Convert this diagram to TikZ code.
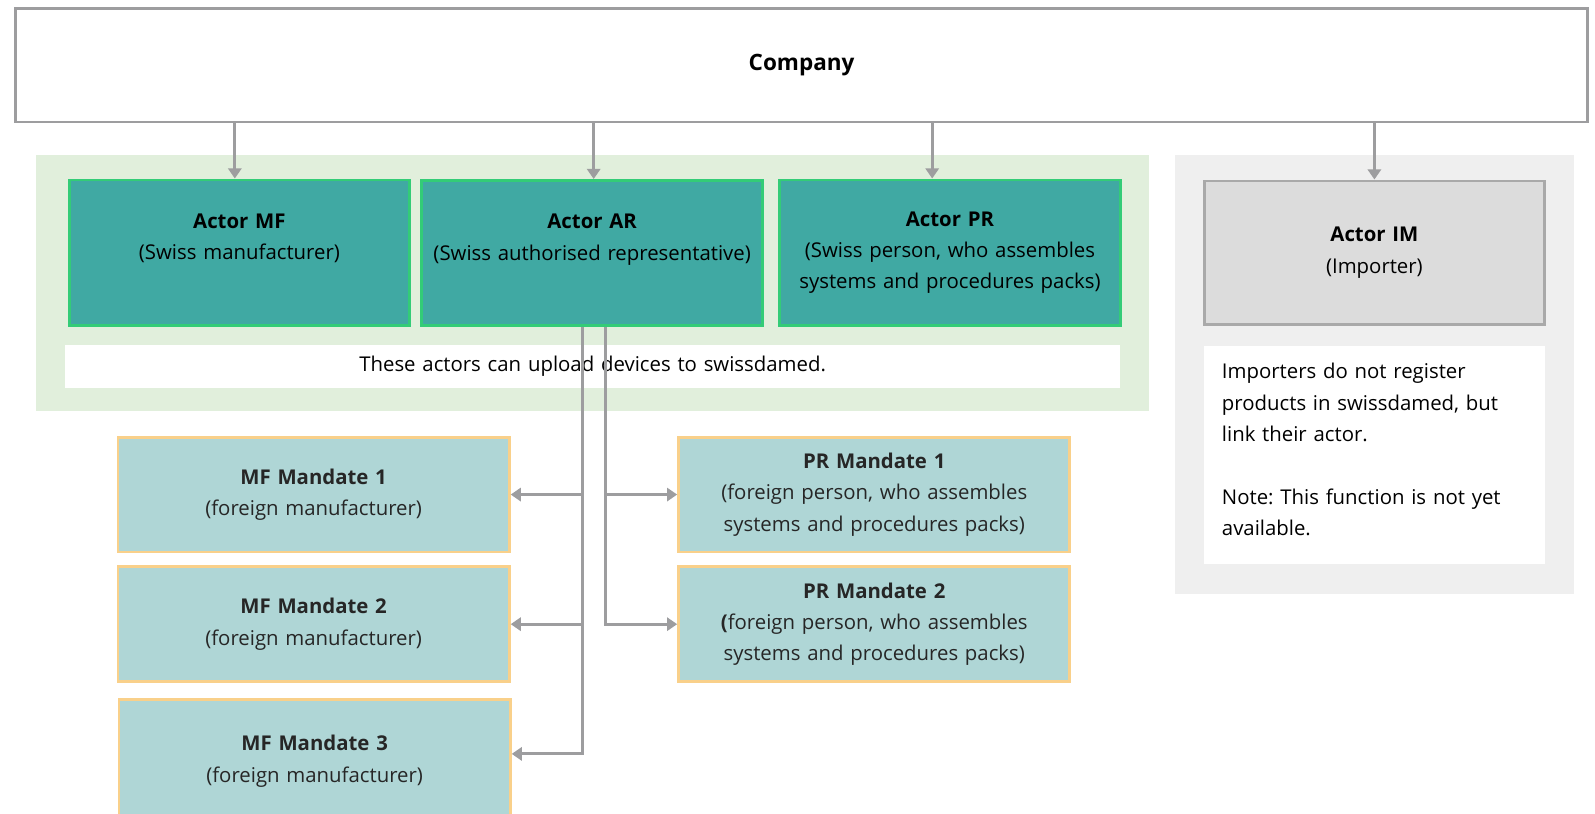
\documentclass[tikz,border=0pt]{standalone}
\usepackage{fontspec}
\setmainfont{Open Sans}
\frenchspacing
\usetikzlibrary{arrows.meta,calc}
\definecolor{actorfill}{HTML}{40A9A3}
\definecolor{actorline}{HTML}{33CC77}
\definecolor{mandfill}{HTML}{AFD6D6}
\definecolor{mandline}{HTML}{F9D08A}
\definecolor{greenbg}{HTML}{E1EFDC}
\definecolor{graybg}{HTML}{EFEFEF}
\definecolor{imfill}{HTML}{DCDCDC}
\definecolor{imline}{HTML}{A9A9A9}
\definecolor{linkgray}{HTML}{9D9D9F}
\tikzset{
  base/.style={rectangle,inner sep=0pt,align=center,line width=1.6pt,
    font=\fontsize{11.4}{17.6}\selectfont},
  actorbox/.style={base,draw=actorline,fill=actorfill,text width=6.7cm,minimum height=2.86cm},
  imbox/.style={base,draw=imline,fill=imfill,text width=6.68cm,minimum height=2.82cm},
  mandate/.style={base,draw=mandline,fill=mandfill,text=black!85,text width=7.7cm,minimum height=2.26cm},
  link/.style={draw=linkgray,line width=1.6pt},
  linkarrow/.style={link,-{Triangle[width=0.26cm,length=0.2cm]}}
}
\begin{document}
\begin{tikzpicture}[x=0.02cm,y=-0.02cm]
\useasboundingbox (0,0) rectangle (1569,800.7);
\clip (0,0) rectangle (1569,800.7);

\fill[greenbg] (35,152) rectangle (1130,404); %uploading actors
\fill[graybg] (1156,152) rectangle (1548,584); %importer

\node[base,draw=linkgray,fill=white,text width=30.94cm,minimum height=2.24cm,
  font=\fontsize{12.6}{17.6}\selectfont\bfseries] (company) at (788.5,64) {Company};

\node[actorbox] (mf) at (235.5,248.5) {\textbf{Actor MF}\\(Swiss manufacturer)\\~};
\node[actorbox] (ar) at (582.5,249) {\textbf{Actor AR}\\(Swiss authorised representative)\\~};
\node[actorbox] (pr) at (934.5,248.5) {\textbf{Actor PR}\\(Swiss person, who assembles\\systems and procedures packs)};
\node[imbox] (im) at (1352,248.5) {\textbf{Actor IM}\\(Importer)};

\node[base,fill=white,text width=20.76cm,minimum height=0.86cm] (band) at (583,360.5)
  {These actors can upload devices to swissdamed.};
\node[base,fill=white,align=left,text width=6cm,inner xsep=0.36cm,minimum height=4.3cm] (note) at (1352,447.5)
  {Importers do not register\\products in swissdamed, but\\link their actor.\\[17.6pt]Note: This function is not yet\\available.\rule[-6pt]{0pt}{0pt}};

\node[mandate] (mfa) at (308.5,486.5) {\textbf{MF Mandate 1}\\(foreign manufacturer)};
\node[mandate] (mfb) at (308.5,614) {\textbf{MF Mandate 2}\\(foreign manufacturer)};
\node[mandate,overlay,minimum height=2.96cm] (mfc) at (309.5,762) {\textbf{MF Mandate 3}\\(foreign manufacturer)\\~}; %cut off
\node[mandate] (pra) at (860,486.5) {\textbf{PR Mandate 1}\\(foreign person, who assembles\\systems and procedures packs)};
\node[mandate] (prb) at (860,614) {\textbf{PR Mandate 2}\\\textbf{(}foreign person, who assembles\\systems and procedures packs)};

% company to actors
\coordinate (mfin) at ($(mf.north)+(-4.5,0)$);
\coordinate (arin) at ($(ar.north)+(1.5,0)$);
\coordinate (prin) at ($(pr.north)+(-17.5,0)$);
\draw[linkarrow] (company.south -| mfin) -- (mfin);
\draw[linkarrow] (company.south -| arin) -- (arin);
\draw[linkarrow] (company.south -| prin) -- (prin);
\draw[linkarrow] (company.south -| im.north) -- (im.north);

% mandates
\coordinate (busL) at ($(ar.south)+(-9.5,0)$);
\coordinate (busR) at ($(ar.south)+(13.5,0)$);
\coordinate (mfcin) at ($(mfc.north east)+(0,55)$);
\draw[linkarrow] (busL) |- (mfa.east);
\draw[linkarrow] (busL) |- (mfb.east);
\draw[linkarrow] (busL) |- (mfcin);
\draw[linkarrow] (busR) |- (pra.west);
\draw[linkarrow] (busR) |- (prb.west);
\end{tikzpicture}
\end{document}
